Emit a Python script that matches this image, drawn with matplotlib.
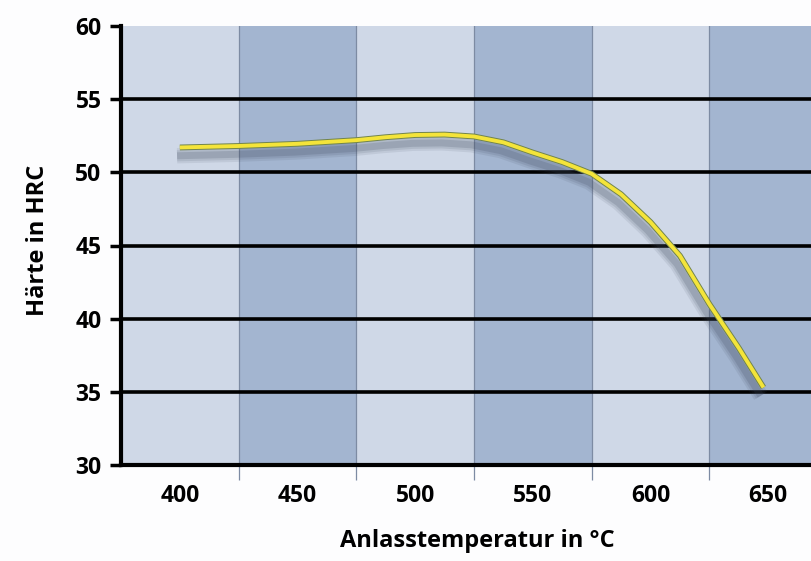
import numpy as np
import matplotlib
matplotlib.use("Agg")
import matplotlib.pyplot as plt
import matplotlib.patheffects as pe

# Anlasskurve
temp = [400, 425, 450, 475, 487.5, 500, 512.5, 525, 537.5, 550, 562.5, 575, 587.5,
        600, 612.5, 625, 637.5, 648]
haerte = [51.7, 51.8, 51.95, 52.2, 52.4, 52.55, 52.58, 52.45, 52.05, 51.35, 50.7, 49.9,
          48.5, 46.6, 44.3, 41.0, 38.0, 35.3]

x_ticks = [400, 450, 500, 550, 600, 650]
y_ticks = [30, 35, 40, 45, 50, 55, 60]
x_label = 'Anlasstemperatur in °C'
y_label = 'Härte in HRC'

light = '#cfd8e7'
dark = '#a3b5d0'

plt.rcParams['font.family'] = ['Open Sans', 'DejaVu Sans']

fig = plt.figure(figsize=(8.11, 5.61), dpi=100)
fig.patch.set_facecolor('#fdfdfe')
ax = fig.add_axes([121/811, 96/561, (827-121)/811, (535-96)/561])

# alternating column bands
for i, t in enumerate(x_ticks):
    ax.axvspan(t - 25, t + 25, color=light if i % 2 == 0 else dark, zorder=0, lw=0)
for t in x_ticks[:-1]:
    ax.axvline(t + 25, color='#7d8ba3', lw=0.9, zorder=1)

# horizontal gridlines
for y in y_ticks[1:-1]:
    ax.axhline(y, color='black', lw=2.6, zorder=2)

# soft shadow, built from a few wide faint strokes
shadow = [pe.SimpleLineShadow(offset=(-2, -6), shadow_color='#3c465a', alpha=a, linewidth=w)
          for a, w in [(0.10, 11), (0.12, 8), (0.18, 5)]]
ax.plot(temp, haerte, color='#f4e43a', lw=2.8, solid_capstyle='butt', zorder=5,
        path_effects=shadow + [pe.Stroke(linewidth=4.2, foreground='#71844c'), pe.Normal()])

ax.set_xlim(375, 675)
ax.set_ylim(30, 60)

ax.set_yticks(y_ticks)
ax.tick_params(axis='y', direction='out', length=8, width=2.5, color='black', pad=6,
               labelsize=16.5)
ax.set_xticks([t + 25 for t in x_ticks[:-1]])
ax.set_xticklabels([])
ax.tick_params(axis='x', direction='out', length=11, width=0.9, color='#7d8ba3')
ax.set_xticks(x_ticks, minor=True)
ax.set_xticklabels([str(t) for t in x_ticks], minor=True)
ax.tick_params(axis='x', which='minor', length=0, pad=14, labelsize=16.5)
for lab in ax.get_xticklabels(minor=True) + ax.get_yticklabels():
    lab.set_fontweight('bold')

for s in ['top', 'right']:
    ax.spines[s].set_visible(False)
ax.spines['left'].set_linewidth(3)
ax.spines['bottom'].set_linewidth(3)
ax.spines['left'].set_bounds(30, 60)

ax.set_xlabel(x_label, fontsize=17, fontweight='bold', labelpad=15)
fig.text(38/811, 1 - 240/561, y_label, rotation=90, fontsize=17, fontweight='bold',
         ha='center', va='center')
ax.xaxis.label.set_x((477 - 121) / (827 - 121))

plt.savefig('out.png', dpi=100)
plt.close()
